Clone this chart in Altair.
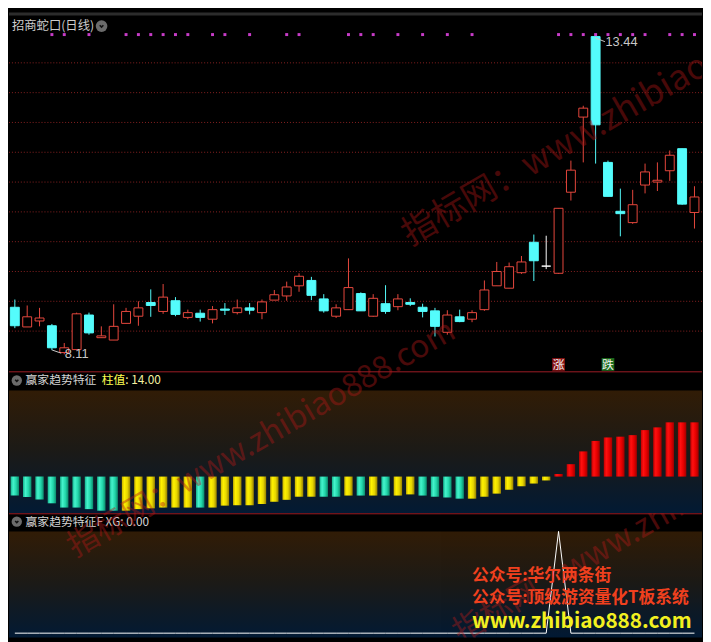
import altair as alt
import pandas as pd

# ---------------- data ----------------
opens = [8.90, 8.57, 8.67, 8.59, 8.14, 8.19, 8.77, 8.39, 8.35, 8.63,
         8.75, 8.98, 8.83, 9.01, 8.73, 8.80, 8.70, 8.87, 8.81, 8.89,
         8.81, 9.02, 9.09, 9.26, 9.35, 9.04, 8.75, 8.86, 9.13, 8.75,
         8.96, 8.91, 8.98, 8.90, 8.84, 8.48, 8.74, 8.70, 8.86, 9.26,
         9.22, 9.48, 9.99, 9.59, 9.47, 10.83, 12.09, 13.44, 11.33, 10.51,
         10.32, 10.95, 11.00, 11.19, 11.56, 10.49]
closes = [8.59, 8.74, 8.72, 8.22, 8.22, 8.79, 8.47, 8.42, 8.58, 8.83,
          8.89, 8.93, 9.07, 8.78, 8.81, 8.73, 8.86, 8.85, 8.89, 8.85,
          8.99, 9.11, 9.24, 9.42, 9.10, 8.84, 8.89, 9.23, 8.84, 9.05,
          8.83, 9.04, 8.95, 8.83, 8.58, 8.77, 8.66, 8.81, 9.19, 9.50,
          9.58, 9.66, 9.68, 9.59, 10.56, 11.20, 12.24, 11.96, 10.76, 10.47,
          10.62, 11.17, 11.03, 11.45, 10.63, 10.75]
highs = [9.03, 8.93, 8.89, 8.62, 8.30, 8.81, 8.81, 8.58, 8.95, 8.89,
         9.00, 9.20, 9.29, 9.07, 8.86, 8.86, 8.92, 8.97, 9.03, 8.97,
         9.03, 9.19, 9.33, 9.47, 9.41, 9.12, 8.95, 9.72, 9.15, 9.12,
         9.27, 9.12, 9.05, 8.96, 8.89, 8.85, 8.86, 8.85, 9.35, 9.66,
         9.65, 9.76, 10.12, 10.10, 10.56, 11.36, 12.28, 13.44, 11.36, 10.89,
         10.87, 11.31, 11.33, 11.53, 11.56, 10.93]
lows = [8.55, 8.57, 8.58, 8.18, 8.11, 8.18, 8.44, 8.39, 8.35, 8.63,
        8.59, 8.74, 8.79, 8.75, 8.70, 8.66, 8.63, 8.77, 8.78, 8.78,
        8.70, 9.02, 9.01, 9.16, 9.02, 8.81, 8.72, 8.86, 8.84, 8.74,
        8.79, 8.85, 8.92, 8.73, 8.41, 8.44, 8.65, 8.65, 8.84, 9.26,
        9.22, 9.46, 9.34, 9.54, 9.46, 10.69, 11.33, 11.31, 10.76, 10.09,
        10.30, 10.81, 10.85, 11.02, 10.62, 10.22]

hist_vals = [-4.9, -5.3, -5.9, -6.9, -8.0, -8.0, -8.4, -8.8, -8.8, -8.8,
             -8.4, -8.2, -8.0, -8.0, -8.0, -8.0, -8.0, -7.5, -7.4, -7.4,
             -7.1, -6.5, -6.0, -5.2, -5.2, -5.2, -5.2, -4.9, -4.9, -4.9,
             -4.9, -4.9, -4.6, -4.9, -5.2, -5.4, -5.7, -5.7, -5.2, -4.4,
             -3.4, -2.5, -1.8, -1.0, 0.67, 3.2, 6.5, 9.2, 10.1, 10.3,
             10.7, 12.0, 12.7, 14.0, 14.0, 14.0]
hist_cols = list("cccccccccyyyyyycyyyyyyyyyccycycyyccccyyyyyyyrrrrrrrrrrrr")

xg_vals = [0, 0, 0, 0, 0, 0, 0, 0, 0, 0,
           0, 0, 0, 0, 0, 0, 0, 0, 0, 0,
           0, 0, 0, 0, 0, 0, 0, 0, 0, 0,
           0, 0, 0, 0, 0, 0, 0, 0, 0, 0,
           0, 0, 0, 0, 1, 0, 0, 0, 0, 0,
           0, 0, 0, 0, 0, 0]

signal_dots = [3, 4, 6, 9, 10, 11, 12, 13, 14, 16, 17, 19, 22, 23, 27, 28, 29,
               31, 33, 35, 37, 44, 45, 46, 47, 48, 49, 50, 51, 53, 54, 55]
marker_idx = [44, 48]
marker_txt = ["涨", "跌"]
grid_prices = [8.5, 9.0, 9.5, 10.0, 10.5, 11.0, 11.5, 12.0, 12.5, 13.0]

title1 = "招商蛇口(日线)"
title2 = "赢家趋势特征"
title3 = "赢家趋势特征F"
notes = ["公众号:华尔两条街", "公众号:顶级游资量化T板系统"]
site = "www.zhibiao888.com"
watermark = "指标网：www.zhibiao888.com"

# ---------------- layout ----------------
W = 703
H1, H2, H3 = 364, 144, 126
CJK = "Noto Sans CJK SC"

xscale = alt.Scale(domain=[-0.473, 55.61], nice=False, zero=False)
y1 = alt.Scale(domain=[7.8254, 13.8443], nice=False, zero=False)
y2s = alt.Scale(domain=[-9.476, 27.165], nice=False, zero=False)
y3 = alt.Scale(domain=[-0.0426, 1.178], nice=False, zero=False)

one = pd.DataFrame({"k": [0]})


def label(text, x, y, align="left", baseline="middle", **kw):
    return alt.Chart(pd.DataFrame({"t": [text]})).mark_text(
        align=align, baseline=baseline, **kw
    ).encode(x=alt.value(x), y=alt.value(y), text="t:N")


def icon(x, y, size):
    c = alt.Chart(one).mark_point(filled=True, color="#6b6b6b", size=size, opacity=1).encode(
        x=alt.value(x), y=alt.value(y))
    chev = alt.Chart(one).mark_point(
        shape="M-0.5,-0.22L0,0.28L0.5,-0.22", filled=False, stroke="#111111",
        strokeWidth=1.6, size=size * 0.38, opacity=1
    ).encode(x=alt.value(x), y=alt.value(y))
    return [c, chev]


def vgrad(y_top, h):
    g = alt.Gradient(gradient="linear", x1=0, x2=0, y1=0, y2=1,
                     stops=[alt.GradientStop(color="#311c06", offset=0),
                            alt.GradientStop(color="#1b1a17", offset=0.5),
                            alt.GradientStop(color="#021a34", offset=1)])
    return alt.Chart(one).mark_rect(fill=g).encode(
        x=alt.value(0), x2=alt.value(W), y=alt.value(y_top), y2=alt.value(h))


def sep():
    return alt.Chart(one).mark_rule(color="#a01c26", strokeWidth=1).encode(
        x=alt.value(0), x2=alt.value(W), y=alt.value(0.5))


# ---------------- panel 1: candles ----------------
n = len(opens)
cdf = pd.DataFrame({"i": list(range(n)), "open": opens, "close": closes,
                    "high": highs, "low": lows})
cdf["kind"] = ["up" if c > o else ("down" if c < o else "flat")
               for o, c in zip(opens, closes)]
kind_stroke = alt.Scale(domain=["up", "down", "flat"],
                        range=["#e8483e", "#54fcfc", "#ffffff"])
kind_fill = alt.Scale(domain=["up", "down", "flat"],
                      range=["#000000", "#54fcfc", "#ffffff"])

top_band = alt.Chart(one).mark_rect(color="#2c2c2c").encode(
    x=alt.value(0), x2=alt.value(W), y=alt.value(0), y2=alt.value(3))

grid = alt.Chart(pd.DataFrame({"p": grid_prices})).mark_rule(
    color="#8a2222", strokeDash=[1, 2], strokeWidth=1
).encode(y=alt.Y("p:Q", scale=y1, axis=None), x=alt.value(0), x2=alt.value(W))

wicks = alt.Chart(cdf).mark_rule(strokeWidth=1).encode(
    x=alt.X("i:Q", scale=xscale, axis=None),
    y=alt.Y("low:Q", scale=y1, axis=None), y2="high:Q",
    stroke=alt.Stroke("kind:N", scale=kind_stroke, legend=None))

bodies = alt.Chart(cdf).transform_calculate(
    x1="datum.i - 0.36", x2="datum.i + 0.36"
).mark_rect(strokeWidth=1).encode(
    x=alt.X("x1:Q", scale=xscale, axis=None), x2="x2:Q",
    y=alt.Y("open:Q", scale=y1, axis=None), y2="close:Q",
    fill=alt.Fill("kind:N", scale=kind_fill, legend=None),
    stroke=alt.Stroke("kind:N", scale=kind_stroke, legend=None))

dots = alt.Chart(pd.DataFrame({"i": signal_dots})).mark_square(
    size=9, color="#c83cc8", opacity=1
).encode(x=alt.X("i:Q", scale=xscale, axis=None), y=alt.value(22.4))

hi_i = max(range(n), key=lambda k: highs[k])
lo_i = min(range(n), key=lambda k: lows[k])
hi_v, lo_v = highs[hi_i], lows[lo_i]
arrows = pd.DataFrame({
    "x": [hi_i - 0.05, lo_i - 0.98], "x2": [hi_i + 0.75, lo_i - 0.25],
    "y": [hi_v - 0.02, lo_v + 0.073], "y2": [hi_v - 0.085, lo_v + 0.02]})
arrow_marks = alt.Chart(arrows).mark_rule(color="#c8c8c8", strokeWidth=1).encode(
    x=alt.X("x:Q", scale=xscale, axis=None), x2="x2:Q",
    y=alt.Y("y:Q", scale=y1, axis=None), y2="y2:Q")
hl_text = alt.Chart(pd.DataFrame({
    "x": [hi_i + 0.8, lo_i + 0.03], "y": [hi_v - 0.085, lo_v + 0.008],
    "t": [f"{hi_v:.2f}", f"{lo_v:.2f}"]})).mark_text(
    align="left", baseline="middle", color="#c8c8c8", fontSize=13,
    font="Liberation Sans"
).encode(x=alt.X("x:Q", scale=xscale, axis=None),
         y=alt.Y("y:Q", scale=y1, axis=None), text="t:N")

mk = pd.DataFrame({"i": marker_idx, "t": marker_txt})
mk_scale = alt.Scale(domain=marker_txt, range=["#8c1414", "#1e6e1e"])
mk_box = alt.Chart(mk).mark_square(size=165, opacity=1).encode(
    x=alt.X("i:Q", scale=xscale, axis=None), y=alt.value(357),
    color=alt.Color("t:N", scale=mk_scale, legend=None))
mk_txt = alt.Chart(mk).mark_text(fontSize=12, color="#f4f4f4", font=CJK,
                                 baseline="middle").encode(
    x=alt.X("i:Q", scale=xscale, axis=None), y=alt.value(357.5), text="t:N")

wm1 = label(watermark, 407, 237, baseline="alphabetic", angle=330, fontSize=35,
            font=CJK, color="#a01414", opacity=0.45, clip=True)

p1 = alt.layer(
    top_band, grid, wicks, bodies, dots, arrow_marks, hl_text, mk_box, mk_txt,
    label(title1, 3, 13.8, fontSize=12.5, font=CJK, color="#cccccc"),
    *icon(93.9, 13.8, 140),
    wm1,
).properties(width=W, height=H1)

# ---------------- panel 2: histogram ----------------
hdf = pd.DataFrame({"i": list(range(len(hist_vals))), "v": hist_vals, "col": hist_cols})


def hgrad(stops):
    return alt.Gradient(gradient="linear", x1=0, x2=1, y1=0, y2=0,
                        stops=[alt.GradientStop(color=c, offset=o) for o, c in stops])


bar_fills = {
    "c": hgrad([(0, "#14b48e"), (0.3, "#45f3cc"), (0.65, "#22d6aa"), (1, "#0b8a6b")]),
    "y": hgrad([(0, "#c8b000"), (0.3, "#fff200"), (0.65, "#e6d600"), (1, "#968000")]),
    "r": hgrad([(0, "#c00000"), (0.3, "#ff1010"), (0.65, "#e60000"), (1, "#a00000")]),
}
bars = []
for key, g in bar_fills.items():
    bars.append(
        alt.Chart(hdf).transform_filter(f"datum.col == '{key}'").transform_calculate(
            x1="datum.i - 0.34", x2="datum.i + 0.34", z="0"
        ).mark_rect(fill=g).encode(
            x=alt.X("x1:Q", scale=xscale, axis=None), x2="x2:Q",
            y=alt.Y("v:Q", scale=y2s, axis=None), y2="z:Q"))

p2 = alt.layer(
    vgrad(19.5, H2), sep(), *bars,
    *icon(7.9, 9.3, 110),
    label(title2, 16.8, 9.3, fontSize=12, font=CJK, color="#d4d4d4"),
    label("柱值", 94, 9.3, fontSize=12, font=CJK, color="#ffff50"),
    label(f": {hist_vals[-1]:.2f}", 118, 9.3, fontSize=12, font=CJK, color="#f4f0a0"),
).properties(width=W, height=H2)

# ---------------- panel 3: XG ----------------
xdf = pd.DataFrame({"i": list(range(len(xg_vals))), "xg": xg_vals})
xg_line = alt.Chart(xdf).mark_line(color="#ffffff", strokeWidth=1).encode(
    x=alt.X("i:Q", scale=xscale, axis=None),
    y=alt.Y("xg:Q", scale=y3, axis=None))

p3 = alt.layer(
    vgrad(18.4, H3), sep(), xg_line,
    *icon(7.9, 8.5, 110),
    label(f"{title3} XG: {xg_vals[-1]:.2f}", 16.8, 8.5, fontSize=12, font=CJK,
          color="#d4d4d4"),
    label(watermark, 67, 45, baseline="alphabetic", angle=330, fontSize=32,
          font=CJK, color="#b01818", opacity=0.42),
    label(watermark, 458, 132, baseline="alphabetic", angle=330, fontSize=32,
          font=CJK, color="#b01818", opacity=0.42, clip=True),
    label(notes[0], 469.6, 63.8, fontSize=17, font=CJK, fontWeight="bold",
          color="#f0401e"),
    label(notes[1], 469.6, 86.5, fontSize=17, font=CJK, fontWeight="bold",
          color="#f0401e"),
    label(site, 469.6, 110.2, fontSize=21, font=CJK, fontWeight="bold",
          color="#f2f020"),
).properties(width=W, height=H3)

chart = alt.vconcat(
    p1, p2, p3, spacing=0, padding=0, bounds="flush", background="#000000",
).configure_view(strokeWidth=0, fill="#000000")

chart.save("out.html", embed_options={"renderer": "svg", "actions": False})
